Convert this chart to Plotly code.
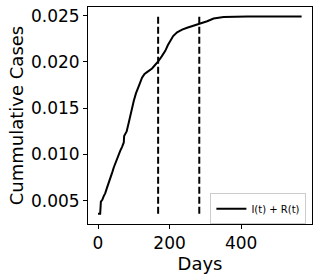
import plotly.graph_objects as go

days = [0, 6, 8, 12, 16, 20, 25, 30, 34, 40, 44, 48, 53, 58, 62, 67, 72, 73, 80, 85, 90, 95,
        100, 106, 113, 118, 123, 130, 137, 145, 151, 160, 167, 178, 188, 195, 202, 210, 221,
        235, 249, 265, 283, 305, 323, 351, 417, 569]
cases = [0.0036, 0.0036, 0.0049, 0.0051, 0.0055, 0.0058, 0.0064, 0.0069, 0.0074, 0.0081, 0.0086,
         0.0090, 0.0097, 0.0100, 0.0104, 0.0108, 0.0113, 0.0120, 0.0125, 0.0133, 0.0142, 0.0150,
         0.0158, 0.0166, 0.0172, 0.0178, 0.0183, 0.0187, 0.0189, 0.0191, 0.0193, 0.0197, 0.0200,
         0.0206, 0.0212, 0.0218, 0.0223, 0.0228, 0.0232, 0.0235, 0.0237, 0.0239, 0.0241, 0.0244,
         0.0247, 0.02485, 0.0249, 0.0249]
vline_days = [168, 283]
vline_range = [0.0036, 0.0250]
x_ticks = [0, 200, 400]
y_ticks = [0.005, 0.010, 0.015, 0.020, 0.025]
y_tick_labels = ["0.005", "0.010", "0.015", "0.020", "0.025"]

fig = go.Figure()
fig.add_trace(go.Scatter(x=days, y=cases, mode="lines", name="I(t) + R(t)",
                         line=dict(color="black", width=2)))
for d in vline_days:
    fig.add_trace(go.Scatter(x=[d, d], y=vline_range, mode="lines", showlegend=False,
                             line=dict(color="black", width=2, dash="7px,3px")))

axis_common = dict(showline=True, mirror=True, linecolor="black", linewidth=1,
                   ticks="outside", ticklen=4, tickcolor="black", showgrid=False,
                   zeroline=False, automargin=False, tickfont=dict(size=17, color="black"))
fig.update_layout(
    width=317, height=278,
    margin=dict(l=88, r=5, t=7, b=54),
    paper_bgcolor="white", plot_bgcolor="white",
    font=dict(family="DejaVu Sans", color="black"),
    xaxis=dict(range=[-28, 598], tickvals=x_ticks,
               title=dict(text="Days", font=dict(size=18), standoff=4), **axis_common),
    yaxis=dict(range=[0.00249, 0.02594], tickvals=y_ticks, ticktext=y_tick_labels,
               title=dict(text="Cummulative Cases", font=dict(size=18), standoff=2), **axis_common),
    legend=dict(x=0.975, y=0.07, xanchor="right", yanchor="middle",
                bgcolor="white", bordercolor="#cccccc", borderwidth=1,
                font=dict(size=10), itemwidth=30, tracegroupgap=0),
    showlegend=True,
)
fig.write_html("out.html", config={"displayModeBar": False},
               post_script="document.body.style.margin='0';")
